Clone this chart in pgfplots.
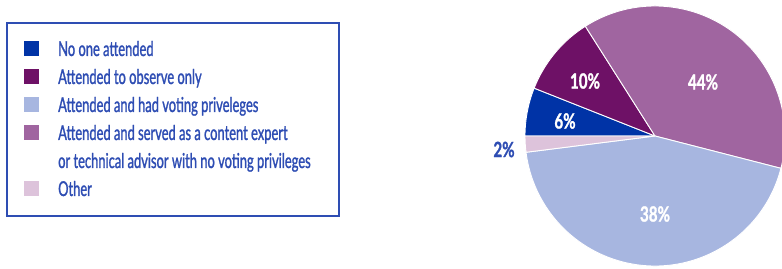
\documentclass[border=0pt]{standalone}
\usepackage{pgfplots}
\usepackage{pgfplotstable}
\pgfplotsset{compat=1.18}
\usepackage{fontspec}
\setmainfont{Lato}[FakeStretch=0.63,FakeBold=1.2]
\newfontfamily\labfont{Lato}[FakeStretch=0.72,FakeBold=1.2]
\definecolor{cBlue}{HTML}{0033A6}
\definecolor{cPurple}{HTML}{6E1166}
\definecolor{cLight}{HTML}{A7B6E0}
\definecolor{cMauve}{HTML}{A065A0}
\definecolor{cPink}{HTML}{DDC3DB}
\definecolor{cText}{HTML}{2E4DB3}

% slices in clockwise order from 180 degrees; share = drawn size (percent), lab = printed label
\pgfplotstableread{
share color   lab lx  ly    tc
6     cBlue   6   565 147   white
10    cPurple 10  585 187   white
38    cMauve  44  703 186   white
44    cLight  38  655 54    white
2     cPink   2   504 118.5 cText
}\piedata

\begin{document}
\begin{tikzpicture}
\begin{axis}[name=ax,width=782pt,height=268pt,scale only axis,
  xmin=0,xmax=782,ymin=0,ymax=268,hide axis,clip=true]
\pgfplotsextra{%
  \xdef\cum{180}%
  \foreach \i in {0,...,4}{%
    \pgfplotstablegetelem{\i}{share}\of\piedata
    \pgfmathsetmacro\a{\cum}%
    \pgfmathsetmacro\b{\cum-3.6*\pgfplotsretval}%
    \pgfplotstablegetelem{\i}{color}\of\piedata
    \edef\c{\pgfplotsretval}%
    \fill[fill=\c, draw=white, line width=0.9pt, line join=round]
      (axis cs:655,132) -- ++(\a:130pt) arc[start angle=\a, end angle=\b, radius=130pt] -- cycle;
    \xdef\cum{\b}%
  }%
  \foreach \i in {0,...,4}{%
    \pgfplotstablegetelem{\i}{lab}\of\piedata \edef\l{\pgfplotsretval}%
    \pgfplotstablegetelem{\i}{lx}\of\piedata \edef\x{\pgfplotsretval}%
    \pgfplotstablegetelem{\i}{ly}\of\piedata \edef\y{\pgfplotsretval}%
    \pgfplotstablegetelem{\i}{tc}\of\piedata \edef\t{\pgfplotsretval}%
    \node[text=\t, font=\labfont\fontsize{21}{21}\selectfont\bfseries, inner sep=0pt] at (axis cs:\x,\y) {\l\%};
  }%
}
% legend box
\draw[cText, line width=1.3pt] (axis cs:7,245) rectangle (axis cs:339,52);
\fill[cBlue]   (axis cs:24,212) rectangle (axis cs:39,227);
\fill[cPurple] (axis cs:24,184) rectangle (axis cs:39,199);
\fill[cLight]  (axis cs:24,156) rectangle (axis cs:39,171);
\fill[cMauve]  (axis cs:24,128) rectangle (axis cs:39,143);
\fill[cPink]   (axis cs:24,72) rectangle (axis cs:39,87);
\begin{scope}[every node/.style={anchor=base west, inner sep=0pt, text=cText, font=\fontsize{20.5}{20.5}\selectfont}]
\node at (axis cs:58,212) {No one attended};
\node at (axis cs:58,184) {Attended to observe only};
\node at (axis cs:58,156) {Attended and had voting priveleges};
\node at (axis cs:58,128) {Attended and served as a content expert};
\node at (axis cs:58,100) {or technical advisor with no voting privileges};
\node at (axis cs:58,72) {Other};
\end{scope}
\end{axis}
\pgfresetboundingbox
\path[use as bounding box] (ax.south west) rectangle (ax.north east);
\end{tikzpicture}
\end{document}
